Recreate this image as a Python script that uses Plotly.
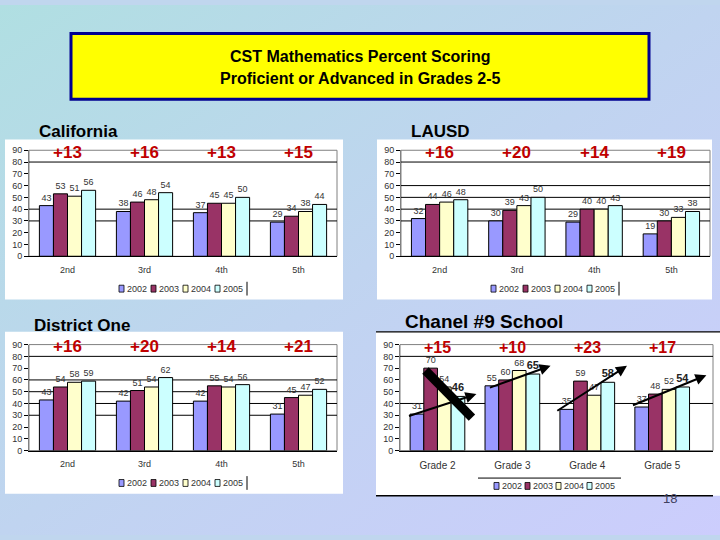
import base64
import plotly.graph_objects as go

# ---------------- data ----------------
years = ["2002", "2003", "2004", "2005"]
year_colors = ["#9999ff", "#993366", "#ffffcc", "#ccffff"]

grades_short = ["2nd", "3rd", "4th", "5th"]
grades_long = ["Grade 2", "Grade 3", "Grade 4", "Grade 5"]

california_2002 = [43, 38, 37, 29]
california_2003 = [53, 46, 45, 34]
california_2004 = [51, 48, 45, 38]
california_2005 = [56, 54, 50, 44]
california_gain = ["+13", "+16", "+13", "+15"]

lausd_2002 = [32, 30, 29, 19]
lausd_2003 = [44, 39, 40, 30]
lausd_2004 = [46, 43, 40, 33]
lausd_2005 = [48, 50, 43, 38]
lausd_gain = ["+16", "+20", "+14", "+19"]

district_2002 = [43, 42, 42, 31]
district_2003 = [54, 51, 55, 45]
district_2004 = [58, 54, 54, 47]
district_2005 = [59, 62, 56, 52]
district_gain = ["+16", "+20", "+14", "+21"]

chanel_2002 = [31, 55, 35, 37]
chanel_2003 = [70, 60, 59, 48]
chanel_2004 = [54, 68, 47, 52]
chanel_2005 = [46, 65, 58, 54]
chanel_gain = ["+15", "+10", "+23", "+17"]

# trend arrows on the Chanel chart: (x_from, y_from, x_to, y_to) in axis units
chanel_arrows = [
    (-0.40, 29, 0.52, 48),
    (0.68, 53, 1.51, 72),
    (1.58, 33, 2.53, 72),
    (2.59, 38, 3.59, 64),
]
chanel_cross = (-0.16, 68, 0.46, 28)

title_lines = ["CST Mathematics Percent Scoring", "Proficient or Advanced in Grades 2-5"]

# ---------------- helpers ----------------
W, H = 720, 540
FONT = "Liberation Sans, Arial, sans-serif"


def fx(p):
    return p / W


def fy(p):
    return 1 - p / H


panels = [
    dict(title="California", tsize=17, tpos=(37, 129), cats=grades_short,
         series=[california_2002, california_2003, california_2004, california_2005],
         gain=california_gain, gain_y=88, gsize=17, grid=[80, 40, 30],
         plot=(29, 148, 337, 256), box=(5, 137, 343, 300), legend=(119, 289, 32, True)),
    dict(title="LAUSD", tsize=17, tpos=(409, 129), cats=grades_short,
         series=[lausd_2002, lausd_2003, lausd_2004, lausd_2005],
         gain=lausd_gain, gain_y=88, gsize=17, grid=[80, 60, 50, 40, 30],
         plot=(401, 148, 710, 256), box=(377, 137, 712, 300), legend=(491, 289, 32, True)),
    dict(title="District One", tsize=17, tpos=(32, 327), cats=grades_short,
         series=[district_2002, district_2003, district_2004, district_2005],
         gain=district_gain, gain_y=88, gsize=17, grid=[80, 60, 50, 40, 30],
         plot=(29, 346, 337, 454), box=(5, 333, 343, 498), legend=(119, 487, 32, True)),
    dict(title="Chanel #9 School", tsize=19, tpos=(403, 322), cats=grades_long,
         series=[chanel_2002, chanel_2003, chanel_2004, chanel_2005],
         gain=chanel_gain, gain_y=87.5, gsize=16, grid=[80, 40],
         plot=(400, 346, 713, 454), box=(376, 333, 720, 500), legend=(494, 490, 31, False)),
]

fig = go.Figure()
shapes = []
annotations = []
layout_axes = {}

# background gradient
svg = ('<svg xmlns="http://www.w3.org/2000/svg" width="720" height="540">'
       '<defs><linearGradient id="g" x1="0" y1="0" x2="1" y2="1">'
       '<stop offset="0" stop-color="#b0dfe2"/>'
       '<stop offset="0.5" stop-color="#c0d4f0"/>'
       '<stop offset="1" stop-color="#cccdfd"/>'
       '</linearGradient></defs>'
       '<rect width="720" height="540" fill="url(#g)"/></svg>')
bg_src = "data:image/svg+xml;base64," + base64.b64encode(svg.encode()).decode()

# title box
shapes.append(dict(type="rect", xref="paper", yref="paper", layer="below",
                   x0=fx(71), x1=fx(649), y0=fy(96), y1=fy(29),
                   fillcolor="#ffff00", line=dict(color="#000090", width=3)))
for line, ypix in zip(title_lines, [52, 75]):
    annotations.append(dict(xref="paper", yref="paper", x=fx(360), y=fy(ypix),
                            text="<b>" + line + "</b>", showarrow=False,
                            xanchor="center", yanchor="middle",
                            font=dict(family=FONT, size=16, color="#000000")))

for k, p in enumerate(panels):
    n = "" if k == 0 else str(k + 1)
    xa, ya = "x" + n, "y" + n
    x0p, y0p, x1p, y1p = p["plot"]
    bx0, by0, bx1, by1 = p["box"]
    is_chanel = p["title"].startswith("Chanel")

    # white panel
    shapes.append(dict(type="rect", xref="paper", yref="paper", layer="below",
                       x0=fx(bx0), x1=fx(bx1), y0=fy(by1), y1=fy(by0),
                       fillcolor="#ffffff", line=dict(width=0)))
    if is_chanel:
        for yy in (by0, by1):
            shapes.append(dict(type="line", xref="paper", yref="paper",
                               x0=fx(bx0), x1=fx(bx1 - 7 if yy == by1 else bx1),
                               y0=fy(yy), y1=fy(yy), line=dict(color="#000000", width=1.3)))

    # bars
    for i, (yr, col) in enumerate(zip(years, year_colors)):
        vals = p["series"][i]
        bold = is_chanel and i == 3
        fig.add_trace(go.Bar(
            x=p["cats"], y=vals, name=yr, xaxis=xa, yaxis=ya,
            marker=dict(color=col, line=dict(color="#000000", width=1)),
            text=[("<b>%d</b>" % v) if bold else str(v) for v in vals],
            textposition="outside", cliponaxis=False, constraintext="none",
            textfont=dict(family=FONT, size=11 if bold else 9, color="#222222" if bold else "#333333"),
            showlegend=False, hoverinfo="x+y+name"))

    # axes
    layout_axes["xaxis" + n] = dict(
        domain=[fx(x0p), fx(x1p)], anchor=ya, type="category",
        showgrid=False, showline=True, linecolor="#000000", linewidth=1,
        ticks="", ticklabelstandoff=5,
        tickfont=dict(family=FONT, size=10 if is_chanel else 9, color="#333333"),
        zeroline=False, fixedrange=True)
    layout_axes["yaxis" + n] = dict(
        domain=[fy(y1p), fy(y0p)], anchor=xa, range=[0, 90], dtick=10,
        showgrid=False, zeroline=False, showline=True, linecolor="#808080", linewidth=1,
        ticks="outside", ticklen=4, tickcolor="#000000", tickwidth=1,
        tickfont=dict(family=FONT, size=9, color="#333333"), fixedrange=True)

    # plot border
    shapes.append(dict(type="rect", xref=xa + " domain", yref=ya + " domain", layer="below",
                       x0=0, x1=1, y0=0, y1=1, line=dict(color="#808080", width=1)))
    # partial grid lines
    for g in p["grid"]:
        shapes.append(dict(type="line", xref=xa + " domain", yref=ya, layer="below",
                           x0=0, x1=1, y0=g, y1=g, line=dict(color="#000000", width=1)))

    # gain labels
    for c, gtxt in zip(p["cats"], p["gain"]):
        annotations.append(dict(xref=xa, yref=ya, x=c, y=p["gain_y"], text="<b>" + gtxt + "</b>",
                                showarrow=False, xanchor="center", yanchor="middle",
                                font=dict(family=FONT, size=p["gsize"], color="#c00000")))

    # panel title
    tx, ty = p["tpos"]
    annotations.append(dict(xref="paper", yref="paper", x=fx(tx), y=fy(ty),
                            text="<b>" + p["title"] + "</b>", showarrow=False,
                            xanchor="left", yanchor="middle",
                            font=dict(family=FONT, size=p["tsize"], color="#000000")))

    # manual legend
    lx, ly, pitch, bar = p["legend"]
    for i, (yr, col) in enumerate(zip(years, year_colors)):
        sx = lx + i * pitch
        shapes.append(dict(type="rect", xref="paper", yref="paper",
                           x0=fx(sx), x1=fx(sx + 5), y0=fy(ly + 3.5), y1=fy(ly - 3.5),
                           fillcolor=col, line=dict(color="#000000", width=0.8)))
        annotations.append(dict(xref="paper", yref="paper", x=fx(sx + 6), y=fy(ly),
                                text=yr, showarrow=False, xanchor="left", yanchor="middle",
                                font=dict(family=FONT, size=9, color="#333333")))
    if bar:
        shapes.append(dict(type="line", xref="paper", yref="paper",
                           x0=fx(lx + 128), x1=fx(lx + 128), y0=fy(ly + 7), y1=fy(ly - 7),
                           line=dict(color="#000000", width=1)))
    else:
        shapes.append(dict(type="line", xref="paper", yref="paper",
                           x0=fx(lx - 16), x1=fx(lx + 127), y0=fy(ly - 8), y1=fy(ly - 8),
                           line=dict(color="#000000", width=1)))

    if is_chanel:
        for (ax0, ay0, ax1, ay1) in chanel_arrows:
            annotations.append(dict(xref=xa, yref=ya, axref=xa, ayref=ya,
                                    x=ax1, y=ay1, ax=ax0, ay=ay0, text="",
                                    showarrow=True, arrowhead=2, arrowsize=1.1,
                                    arrowwidth=2, arrowcolor="#000000"))
        cx0, cy0, cx1, cy1 = chanel_cross
        shapes.append(dict(type="line", xref=xa, yref=ya, x0=cx0, y0=cy0, x1=cx1, y1=cy1,
                           line=dict(color="#000000", width=9)))

# page number
annotations.append(dict(xref="paper", yref="paper", x=fx(670), y=fy(503), text="18",
                        showarrow=False, xanchor="center", yanchor="middle",
                        font=dict(family=FONT, size=13, color="#404060")))

fig.update_layout(
    width=W, height=H, margin=dict(l=0, r=0, t=0, b=0),
    paper_bgcolor="#c0d6ee", plot_bgcolor="#c0c0c0",
    barmode="group", bargap=0.27, bargroupgap=0,
    showlegend=False, shapes=shapes, annotations=annotations,
    images=[dict(source=bg_src, xref="paper", yref="paper", x=0, y=1, sizex=1, sizey=1,
                 sizing="stretch", layer="below", xanchor="left", yanchor="top")],
    font=dict(family=FONT),
    **layout_axes,
)

fig.write_html("out.html", config={"displayModeBar": False},
               post_script="document.body.style.margin='0';document.body.style.overflow='hidden';")
